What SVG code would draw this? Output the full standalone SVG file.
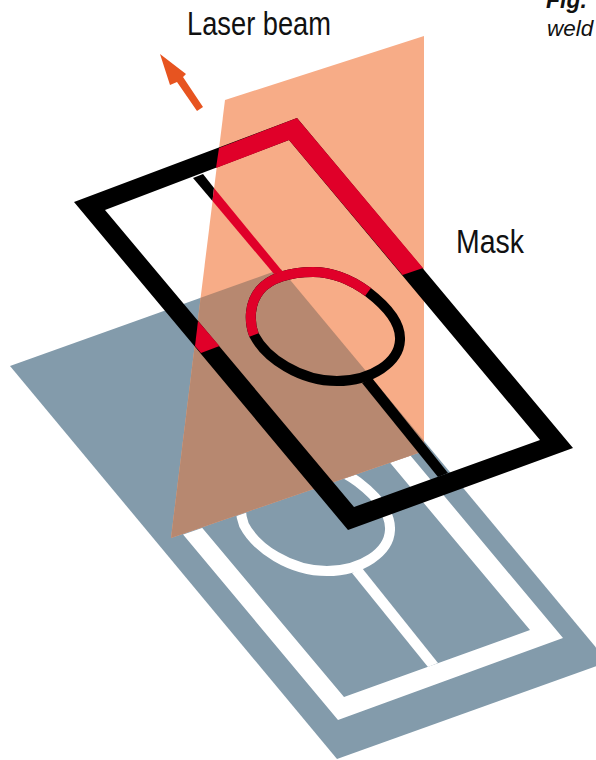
<svg xmlns="http://www.w3.org/2000/svg" width="596" height="760" viewBox="0 0 596 760">
<defs>
<style>
.lbl{font-family:"Liberation Sans",Arial,sans-serif;fill:#111}
.small{font-family:"Liberation Sans",Arial,sans-serif;fill:#111;font-style:italic}
.ring{fill:none;stroke-width:10}
</style>
<path id="ringPath" d="M254 335C249 322 249 303 260 290C270 278 290 272 313 272C335 272 353 281 368 292C385 305 401 322 400 340C399 362 372 381 337 381C300 381 266 358 254 335Z"/>
<path id="frame" fill-rule="evenodd" d="M74 202L297 118L573 448L348 530ZM105 210L354 507L540 440L289 140Z"/>
<clipPath id="beamClip"><polygon points="225,100 424,36 424,451 171,538"/></clipPath>
<clipPath id="belowBeam"><polygon points="0,598 424,451 596,392 596,760 0,760"/></clipPath>
</defs>
<rect width="596" height="760" fill="#fff"/>
<g id="plate">
<polygon points="10,366 281,269 608,662 337,759" fill="#839bab"/>
<g clip-path="url(#belowBeam)">
<g transform="translate(-10,190)" fill="#fff">
<use href="#frame"/>
<use href="#ringPath" class="ring" stroke="#fff"/>
<polygon points="362,383 372,378 448,473 438,477"/>
</g>
</g>
</g>
<g id="beam">
<polygon points="225,100 424,36 424,451 171,538" fill="#f7ac87"/>
<polygon clip-path="url(#beamClip)" points="10,366 281,269 608,662 337,759" fill="#b78870"/>
</g>
<g id="mask">
<use href="#frame" fill="#000"/>
<polygon points="362,383 372,378 448,473 438,477" fill="#000"/>
<polygon points="193,178 203,174 214,188 212.5,201" fill="#000"/>
<use href="#ringPath" class="ring" stroke="#000"/>
</g>
<g id="mask-red" fill="#e00029">
<polygon points="219,148 297,118 423,268 402.5,275 289,140 216,168"/>
<polygon points="198,321 219.5,346 201,353 195,346"/>
<polygon points="214,188 283,272 274,274 212.5,201"/>
<path class="ring" stroke="#e00029" d="M254 335C249 322 249 303 260 290C270 278 290 272 313 272C335 272 353 281 368 292"/>
</g>
<g id="arrow">
<polygon points="160,54 186,74 183,77 203,107 197,111 177,82 170,85" fill="#e75420"/>
</g>
<g id="labels">
<text id="laser-beam" class="lbl" x="187" y="35" font-size="34" textLength="144" lengthAdjust="spacingAndGlyphs">Laser beam</text>
<text id="mask-label" class="lbl" x="456" y="253" font-size="34" textLength="68" lengthAdjust="spacingAndGlyphs">Mask</text>
<text id="fig" class="small" x="546" y="8" font-size="23" font-weight="bold">Fig.</text>
<text id="weld" class="small" x="547" y="36" font-size="22.5">weld</text>
</g>
</svg>
